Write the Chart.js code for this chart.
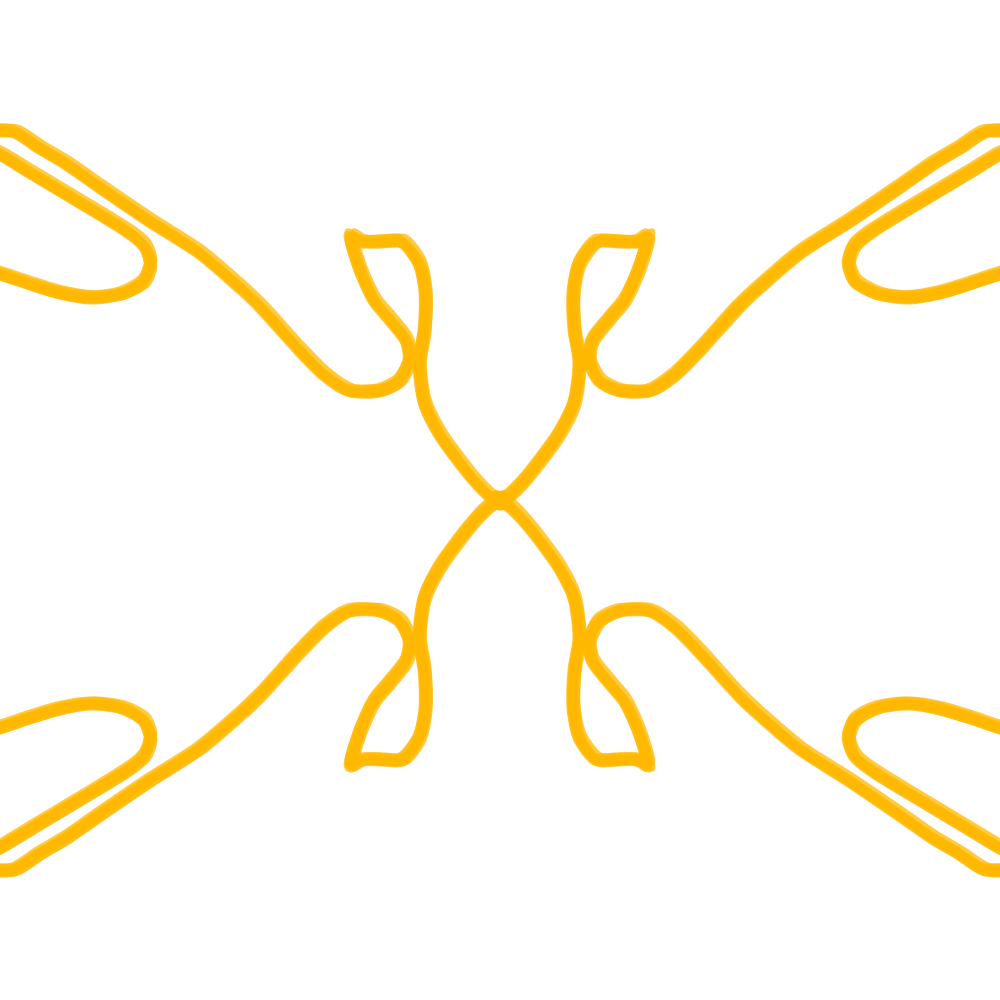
<!DOCTYPE html>
<html>
<head>
<meta charset="utf-8">
<script src="https://cdn.jsdelivr.net/npm/chart.js@4/dist/chart.umd.min.js"></script>
<style>
  html, body { margin: 0; padding: 0; background: #ffffff; }
  #wrap { width: 1000px; height: 1000px; }
</style>
</head>
<body>
<div id="wrap"><canvas id="chart" width="1000" height="1000"></canvas></div>
<script>
// one quarter of the figure (top-left), the other three are its mirror images
// outer stroke: comes in from the left edge, loops under the leaf, then down to the centre
const pathX = [-10, 15, 40, 67, 100, 150, 200, 240, 262, 300, 325, 350, 380, 400, 410, 407, 390, 375, 363, 355, 351, 362, 382, 403, 420, 426, 425, 420, 425, 440, 460, 478, 493, 500];
const pathY = [130, 131, 147, 163, 186, 220, 252, 286, 307, 349, 374, 390, 390, 380, 360, 340, 318, 300, 275, 252, 235, 241, 241, 241, 263, 292, 330, 362, 402, 433, 461, 483, 497, 497];

// inner U-shaped stroke near the left edge
const loopX = [-10, 0, 33, 83, 127, 145, 151, 144, 122, 92, 60, 30, 0, -10];
const loopY = [149, 153, 173, 203, 230, 245, 263, 281, 293, 297, 292, 283, 273, 270];

// how the figure is mirrored: [flip x, flip y]
const quarters = [[false, false], [true, false], [false, true], [true, true]];

// small shifts of the repeated strokes (the hand-drawn look)
const strokeShifts = [[0, 0], [3, -3], [-3, 3], [3, 3], [-3, -3], [0, 4], [-4, 0]];

const lineColor = 'rgba(255, 184, 0, 0.75)';

function toPoints(xs, ys, flipX, flipY, dx, dy) {
    return xs.map((x, i) => ({
        x: (flipX ? 1000 - x : x) + dx,
        y: (flipY ? 1000 - ys[i] : ys[i]) + dy
    }));
}

const datasets = [];
quarters.forEach(q => {
    strokeShifts.forEach(s => {
        [[pathX, pathY], [loopX, loopY]].forEach(p => {
            datasets.push({
                data: toPoints(p[0], p[1], q[0], q[1], s[0], s[1]),
                showLine: true,
                borderColor: lineColor,
                borderWidth: 7,
                pointRadius: 0,
                tension: 0.25,
                borderCapStyle: 'round',
                borderJoinStyle: 'round'
            });
        });
    });
});

new Chart(document.getElementById('chart'), {
    type: 'scatter',
    data: { datasets: datasets },
    options: {
        responsive: false,
        animation: false,
        devicePixelRatio: 1,
        layout: { padding: 0 },
        plugins: { legend: { display: false }, tooltip: { enabled: false } },
        scales: {
            x: { display: false, min: 0, max: 1000 },
            y: { display: false, min: 0, max: 1000, reverse: true }
        }
    }
});
</script>
</body>
</html>
